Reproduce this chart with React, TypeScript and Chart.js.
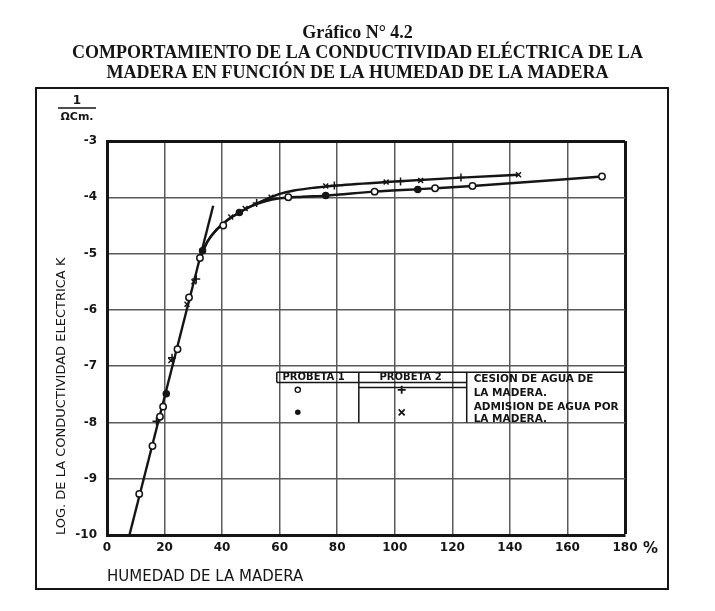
import React, { useEffect, useRef } from "react";
import { Chart, registerables } from "chart.js";

Chart.register(...registerables);

const TITLE_LINES = [
  "Gráfico N° 4.2",
  "COMPORTAMIENTO DE LA CONDUCTIVIDAD ELÉCTRICA DE LA",
  "MADERA EN FUNCIÓN DE LA HUMEDAD DE LA MADERA",
];

const X_MIN = 0;
const X_MAX = 180;
const X_STEP = 20;
const Y_MIN = -10;
const Y_MAX = -3;
const Y_STEP = 1;

// Straight steep branch (dry range)
const steepX = [7.8, 36.9];
const steepY = [-10, -4.15];

// Trend curve, probeta 1
const curve1X = [32.5, 35, 38, 42, 46, 50, 55, 60, 68, 76, 93, 110, 127, 172];
const curve1Y = [-5.05, -4.78, -4.58, -4.4, -4.27, -4.16, -4.07, -4.02, -3.99, -3.97, -3.9, -3.85, -3.8, -3.63];

// Trend curve, probeta 2
const curve2X = [32.5, 35, 38, 42, 46, 50, 55, 60, 65, 72, 80, 100, 123, 143];
const curve2Y = [-5.05, -4.78, -4.58, -4.4, -4.27, -4.16, -4.04, -3.94, -3.88, -3.83, -3.79, -3.72, -3.65, -3.6];

// Probeta 1 – cesión de agua (open circles)
const p1CesionX = [11.2, 15.8, 18.4, 19.5, 24.5, 28.5, 32.3, 40.4, 63, 93, 114, 127, 172];
const p1CesionY = [-9.27, -8.42, -7.9, -7.72, -6.7, -5.78, -5.08, -4.5, -4.0, -3.9, -3.84, -3.8, -3.63];

// Probeta 1 – admisión de agua (filled circles)
const p1AdmisionX = [20.6, 33.2, 46, 76, 108];
const p1AdmisionY = [-7.49, -4.95, -4.27, -3.97, -3.86];

// Probeta 2 – cesión de agua (+)
const p2CesionX = [17.2, 22.6, 31, 52, 79, 102, 123];
const p2CesionY = [-7.98, -6.85, -5.45, -4.1, -3.79, -3.72, -3.65];

// Probeta 2 – admisión de agua (x)
const p2AdmisionX = [22.2, 27.8, 30.2, 43, 48, 57, 76, 97, 109, 143];
const p2AdmisionY = [-6.9, -5.9, -5.5, -4.35, -4.2, -4.0, -3.8, -3.73, -3.7, -3.6];

const toPoints = (xs: number[], ys: number[]) => xs.map((x, i) => ({ x, y: ys[i] }));

const INK = "#151515";
const GRID = "#5a5a5a";
const SANS = "'DejaVu Sans', 'Liberation Sans', sans-serif";

const decorPlugin = {
  id: "decor",
  afterDraw(chart: any) {
    const { ctx } = chart;
    const xs = chart.scales.x;
    const ys = chart.scales.y;
    const px = (v: number) => xs.getPixelForValue(v);
    const py = (v: number) => ys.getPixelForValue(v);
    ctx.save();

    // heading
    ctx.fillStyle = INK;
    ctx.textAlign = "center";
    ctx.textBaseline = "middle";
    ctx.font = "bold 18px 'Liberation Serif', serif";
    TITLE_LINES.forEach((t, i) => ctx.fillText(t, 357.5, 33 + i * 20));

    // outer frame
    ctx.strokeStyle = INK;
    ctx.lineWidth = 2;
    ctx.strokeRect(36, 88, 632, 501);

    // unit of the y axis: 1 / (Ω·cm)
    ctx.font = `bold 12px ${SANS}`;
    ctx.fillText("1", 77, 101);
    ctx.lineWidth = 1.5;
    ctx.beginPath();
    ctx.moveTo(58, 108);
    ctx.lineTo(96, 108);
    ctx.stroke();
    ctx.font = `bold 11px ${SANS}`;
    ctx.fillText("ΩCm.", 77, 117);

    // percent sign after the last x tick
    ctx.font = `bold 15px ${SANS}`;
    ctx.textAlign = "left";
    ctx.fillText("%", 643, 549);

    // key table
    const lx = px(59);
    const s1 = px(87.5);
    const s2 = px(125);
    const rx = xs.right;
    const top = py(-7.11);
    const hdr = py(-7.29);
    const bot = py(-8);
    ctx.strokeStyle = INK;
    ctx.lineWidth = 1.5;
    ctx.beginPath();
    ctx.moveTo(lx, top);
    ctx.lineTo(rx, top);
    ctx.moveTo(lx, top);
    ctx.lineTo(lx, hdr);
    ctx.moveTo(lx, hdr);
    ctx.lineTo(s2, hdr);
    ctx.moveTo(s1, top);
    ctx.lineTo(s1, bot);
    ctx.moveTo(s2, top);
    ctx.lineTo(s2, bot);
    ctx.moveTo(s1, py(-7.38));
    ctx.lineTo(s2, py(-7.38));
    ctx.stroke();

    ctx.fillStyle = INK;
    ctx.font = `bold 10px ${SANS}`;
    ctx.textBaseline = "middle";
    ctx.textAlign = "left";
    ctx.fillText("PROBETA 1", px(61), py(-7.2));
    ctx.textAlign = "center";
    ctx.fillText("PROBETA 2", px(105.5), py(-7.2));

    ctx.textAlign = "left";
    ctx.font = `bold 10.5px ${SANS}`;
    const tx = px(127.4);
    ctx.fillText("CESION DE AGUA DE", tx, py(-7.24));
    ctx.fillText("LA MADERA.", tx, py(-7.48));
    ctx.fillText("ADMISION DE AGUA POR", tx, py(-7.73));
    ctx.fillText("LA MADERA.", tx, py(-7.95));

    // key symbols
    const sx1 = px(66.3);
    const sx2 = px(102.4);
    const r1 = py(-7.42);
    const r2 = py(-7.82);
    ctx.lineWidth = 1.4;
    ctx.beginPath();
    ctx.arc(sx1, r1, 2.6, 0, Math.PI * 2);
    ctx.stroke();
    ctx.beginPath();
    ctx.arc(sx1, r2, 2.8, 0, Math.PI * 2);
    ctx.fill();
    ctx.lineWidth = 1.8;
    ctx.beginPath();
    ctx.moveTo(sx2 - 4, r1);
    ctx.lineTo(sx2 + 4, r1);
    ctx.moveTo(sx2, r1 - 4);
    ctx.lineTo(sx2, r1 + 4);
    ctx.moveTo(sx2 - 3, r2 - 3);
    ctx.lineTo(sx2 + 3, r2 + 3);
    ctx.moveTo(sx2 + 3, r2 - 3);
    ctx.lineTo(sx2 - 3, r2 + 3);
    ctx.stroke();

    ctx.restore();
  },
};

export default function App() {
  const canvasRef = useRef<HTMLCanvasElement | null>(null);

  useEffect(() => {
    const canvas = canvasRef.current;
    if (!canvas) return;

    const lineDs = (label: string, xs: number[], ys: number[]) => ({
      label,
      data: toPoints(xs, ys),
      showLine: true,
      borderColor: INK,
      borderWidth: 2.4,
      pointRadius: 0,
      cubicInterpolationMode: "monotone" as const,
      fill: false,
      order: 2,
    });

    const markDs = (label: string, xs: number[], ys: number[], style: any, bg: string, r: number) => ({
      label,
      data: toPoints(xs, ys),
      showLine: false,
      pointStyle: style,
      pointRadius: r,
      pointBorderColor: INK,
      pointBackgroundColor: bg,
      pointBorderWidth: 1.5,
      order: 1,
    });

    const chart = new Chart(canvas, {
      type: "scatter",
      data: {
        datasets: [
          lineDs("Tramo recto", steepX, steepY),
          lineDs("Probeta 1", curve1X, curve1Y),
          lineDs("Probeta 2", curve2X, curve2Y),
          markDs("Probeta 1 cesión", p1CesionX, p1CesionY, "circle", "#ffffff", 3.2),
          markDs("Probeta 1 admisión", p1AdmisionX, p1AdmisionY, "circle", INK, 3),
          markDs("Probeta 2 cesión", p2CesionX, p2CesionY, "cross", INK, 4),
          markDs("Probeta 2 admisión", p2AdmisionX, p2AdmisionY, "crossRot", INK, 3.5),
        ] as any,
      },
      options: {
        responsive: false,
        animation: false,
        devicePixelRatio: 1,
        layout: { padding: { top: 141, left: 0, right: 90, bottom: 0 } },
        plugins: {
          legend: { display: false },
          tooltip: { enabled: false },
        },
        scales: {
          x: {
            type: "linear",
            min: X_MIN,
            max: X_MAX,
            afterFit: (s: any) => {
              s.height = 76;
            },
            ticks: {
              stepSize: X_STEP,
              padding: 6,
              color: INK,
              font: { family: SANS, size: 12, weight: "bold" },
            },
            grid: {
              drawTicks: false,
              color: (c: any) => (c.tick && c.tick.value === X_MAX ? INK : GRID),
              lineWidth: (c: any) => (c.tick && c.tick.value === X_MAX ? 3 : 1.5),
            },
            border: { display: true, color: INK, width: 3 },
            title: {
              display: true,
              text: "HUMEDAD DE LA MADERA",
              align: "start",
              color: INK,
              font: { family: SANS, size: 15 },
              padding: { top: 0, bottom: 25 },
            },
          },
          y: {
            type: "linear",
            min: Y_MIN,
            max: Y_MAX,
            afterFit: (s: any) => {
              s.width = 107;
            },
            ticks: {
              stepSize: Y_STEP,
              padding: 10,
              color: INK,
              font: { family: SANS, size: 12, weight: "bold" },
            },
            grid: {
              drawTicks: false,
              color: (c: any) => (c.tick && c.tick.value === Y_MAX ? INK : GRID),
              lineWidth: (c: any) => (c.tick && c.tick.value === Y_MAX ? 3 : 1.5),
            },
            border: { display: true, color: INK, width: 3 },
            title: {
              display: true,
              text: "LOG. DE LA CONDUCTIVIDAD ELECTRICA K",
              align: "start",
              color: INK,
              font: { family: SANS, size: 13 },
              padding: { top: 54, bottom: 0 },
            },
          },
        },
      } as any,
      plugins: [decorPlugin],
    });

    return () => chart.destroy();
  }, []);

  return (
    <div style={{ position: "absolute", left: 0, top: 0, width: 715, height: 611, background: "#fff" }}>
      <canvas ref={canvasRef} width={715} height={611} style={{ display: "block" }} />
    </div>
  );
}
